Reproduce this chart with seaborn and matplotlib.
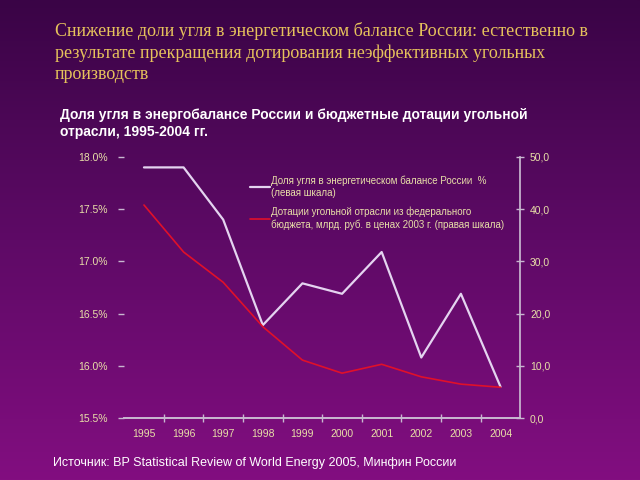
import numpy as np
import pandas as pd
import seaborn as sns
import matplotlib.pyplot as plt
from matplotlib.colors import LinearSegmentedColormap

years = [1995, 1996, 1997, 1998, 1999, 2000, 2001, 2002, 2003, 2004]
coal_share = [17.90, 17.90, 17.40, 16.39, 16.79, 16.69, 17.09, 16.08, 16.69, 15.80]
subsidies = [40.8, 31.8, 26.0, 17.5, 11.1, 8.6, 10.3, 7.9, 6.5, 5.9]

left_ticks = [15.5, 16.0, 16.5, 17.0, 17.5, 18.0]
left_labels = ["15.5%", "16.0%", "16.5%", "17.0%", "17.5%", "18.0%"]
right_ticks = [0, 10, 20, 30, 40, 50]
right_labels = ["0,0", "10,0", "20,0", "30,0", "40,0", "50,0"]

title = ("Снижение доли угля в энергетическом балансе России: естественно в\n"
         "результате прекращения дотирования неэффективных угольных\n"
         "производств")
subtitle = ("Доля угля в энергобалансе России и бюджетные дотации угольной\n"
            "отрасли, 1995-2004 гг.")
source = "Источник: BP Statistical Review of World Energy 2005, Минфин России"
label_share = "Доля угля в энергетическом балансе России  %\n(левая шкала)"
label_subs = ("Дотации угольной отрасли из федерального\n"
              "бюджета, млрд. руб. в ценах 2003 г. (правая шкала)")

df = pd.DataFrame({"year": years, "share": coal_share, "subs": subsidies})

sns.set_theme(style="ticks")
plt.rcParams["font.family"] = ["Liberation Sans", "DejaVu Sans"]

tick_col = "#E8DFA8"
axis_col = "#C8B8D0"
white_line = "#E4D4F0"
red_line = "#E0102A"

fig = plt.figure(figsize=(6.4, 4.8), dpi=100)

# purple gradient background
bg = fig.add_axes([0, 0, 1, 1], zorder=-10)
cmap = LinearSegmentedColormap.from_list("bg", ["#3A0446", "#5E0A66", "#820E80"])
bg.imshow(np.linspace(0, 1, 256).reshape(-1, 1), aspect="auto", cmap=cmap,
          extent=[0, 1, 0, 1])
bg.axis("off")

ax = fig.add_axes([0.194, 0.129, 0.619, 0.544])
ax.set_facecolor("none")
ax2 = ax.twinx()

sns.lineplot(data=df, x="year", y="share", ax=ax, color=white_line,
             linewidth=1.6, label=label_share, legend=False)
sns.lineplot(data=df, x="year", y="subs", ax=ax2, color=red_line,
             linewidth=1.2, label=label_subs, legend=False)

ax.set_xlim(1994.5, 2004.5)
ax.set_ylim(15.5, 18.0)
ax2.set_ylim(0, 50)

ax.set_xticks(years)
ax.set_xticklabels([str(y) for y in years], color=tick_col, fontsize=7.5)
ax.set_xticks([y + 0.5 for y in years[:-1]], minor=True)
ax.tick_params(axis="x", which="major", length=0, pad=8)
ax.tick_params(axis="x", which="minor", length=6, direction="inout",
               color=axis_col, width=1)

ax.set_yticks(left_ticks)
ax.set_yticklabels(left_labels, color=tick_col, fontsize=7.5)
ax.tick_params(axis="y", length=4, width=1, color=axis_col, pad=8)

ax2.set_yticks(right_ticks)
ax2.set_yticklabels(right_labels, color=tick_col, fontsize=7.5)
ax2.tick_params(axis="y", length=6, width=1, direction="inout",
                color=axis_col, pad=4)

for a in (ax, ax2):
    a.set_xlabel("")
    a.set_ylabel("")
    a.spines["top"].set_visible(False)
    a.spines["left"].set_visible(False)
    a.spines["right"].set_visible(False)
    a.spines["bottom"].set_color(axis_col)
ax2.spines["right"].set_visible(True)
ax2.spines["right"].set_color(axis_col)

handles = ax.get_lines()[:1] + ax2.get_lines()[:1]
leg = ax2.legend(handles, [label_share, label_subs], loc="upper left",
                 bbox_to_anchor=(0.318, 0.93), frameon=False, fontsize=7.0,
                 handlelength=2.0, handletextpad=0.15, labelspacing=0.9,
                 borderaxespad=0, borderpad=0)
for t in leg.get_texts():
    t.set_color(tick_col)
    t.set_linespacing(1.25)

fig.text(0.086, 0.955, title, color="#E6C25C", fontsize=13,
         family=["Liberation Serif", "DejaVu Serif"], va="top",
         linespacing=1.34)
fig.text(0.094, 0.775, subtitle, color="white", fontsize=10,
         fontweight="bold", va="top", linespacing=1.3)
fig.text(0.083, 0.035, source, color="white", fontsize=9, va="center")

plt.savefig("out.png", dpi=100)
